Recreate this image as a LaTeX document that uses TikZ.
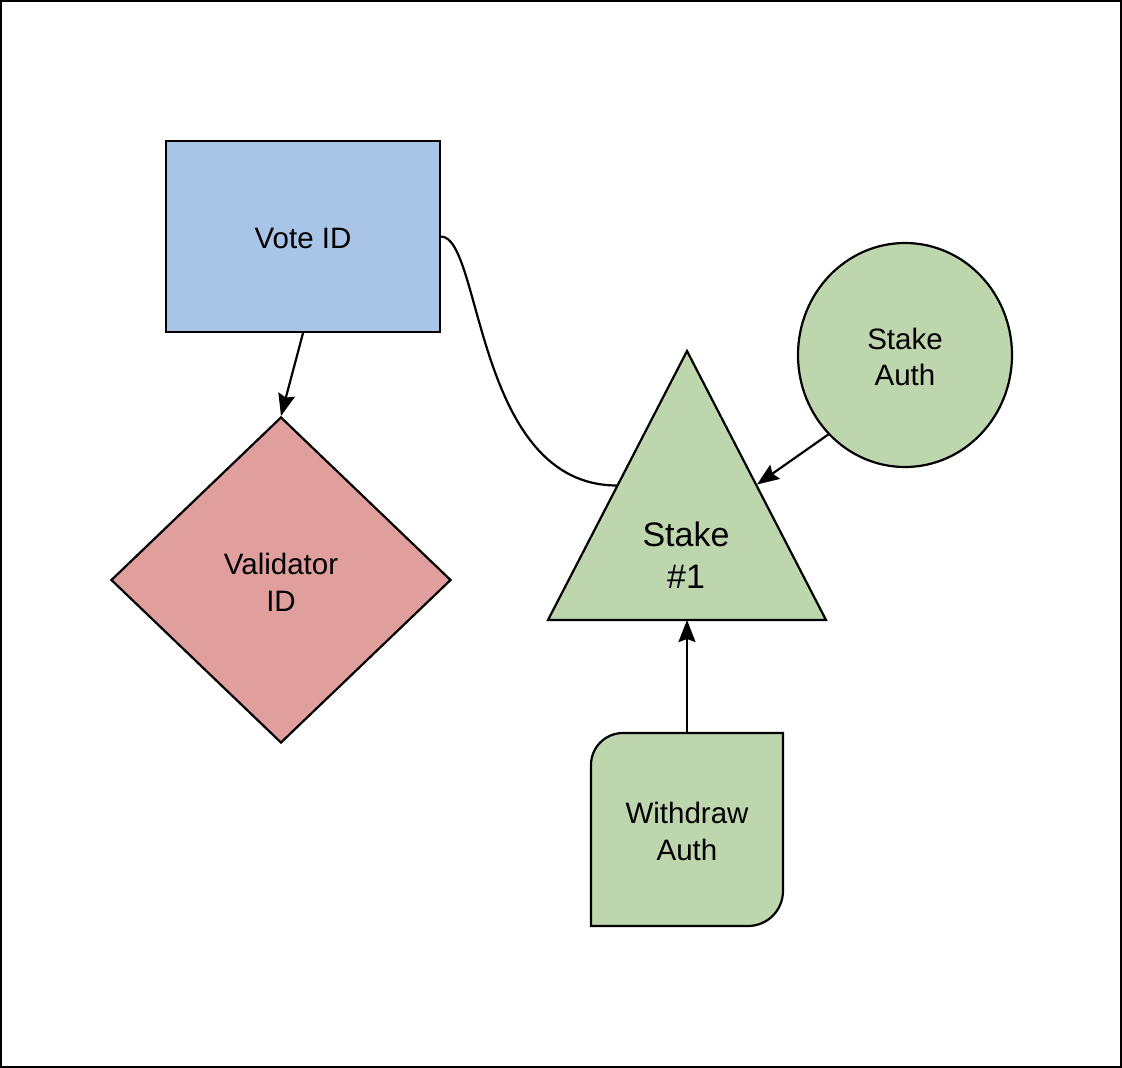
\documentclass[tikz,border=0pt]{standalone}
\usepackage{fontspec}
\setmainfont{Liberation Sans}
\usetikzlibrary{shapes.geometric,arrows.meta,calc}
\definecolor{vblue}{RGB}{168,196,230}
\definecolor{vred}{RGB}{224,158,157}
\definecolor{vgreen}{RGB}{190,214,174}
\tikzset{
  shp/.style={draw=black, line width=2.2pt, line join=miter},
  lbl/.style={align=center, font=\fontsize{29.5}{36.8}\selectfont, inner sep=0pt},
  big/.style={align=center, font=\fontsize{34}{42}\selectfont, inner sep=0pt},
  conn/.style={line width=2.2pt, -{Stealth[length=22pt,width=17pt,inset=3pt]}},
  plain/.style={line width=2.2pt}
}
\begin{document}
\begin{tikzpicture}[x=1pt,y=-1pt]
\useasboundingbox (0,0) rectangle (1122,1068);
\draw[line width=1.5pt] (1,1) rectangle (1121,1067);
% Vote ID
\node[shp, fill=vblue, rectangle, minimum width=274pt, minimum height=191pt, inner sep=0pt] (vote) at (303,236.5) {};
\node[lbl] (votet) at (303,238.5) {Vote ID};
% Validator ID
\node[shp, fill=vred, diamond, aspect=1, minimum width=340pt, minimum height=326pt, inner sep=0pt] (val) at (281,580) {};
\node[lbl] (valt) at (281,582) {Validator\\ID};
% Stake Auth
\node[shp, fill=vgreen, ellipse, minimum width=214pt, minimum height=224pt, inner sep=0pt] (sa) at (905,355) {};
\node[lbl] (sat) at (905,357) {Stake\\Auth};
% Triangle
\coordinate (tapex) at (687,351);
\coordinate (tleft) at (548,620);
\coordinate (tright) at (826,620);
\draw[shp, fill=vgreen] (tapex) -- (tright) -- (tleft) -- cycle;
\coordinate (tbase) at (687,620);
\coordinate (tlmid) at ($(tapex)!0.5!(tleft)$);
\coordinate (trmid) at (757,484.5);
\node[big] (stk) at (686,555) {Stake\\\#1};
% Withdraw Auth
\coordinate (wtop) at (687,733);
\draw[shp, fill=vgreen] (591,926) -- (591,765) .. controls (591,747.3) and (605.3,733) .. (623,733)
  -- (783,733) -- (783,891) .. controls (783,910.3) and (767.3,926) .. (748,926) -- cycle;
\node[lbl] (wa) at (687,831.5) {Withdraw\\Auth};
% connectors
\draw[conn] (vote.south) -- (val.north);
\draw[conn] (sa.226.5) -- (trmid);
\draw[conn] (wtop) -- (tbase);
\draw[plain] (vote.east) .. controls (482,237) and (475,486) .. (tlmid);
\end{tikzpicture}
\end{document}
